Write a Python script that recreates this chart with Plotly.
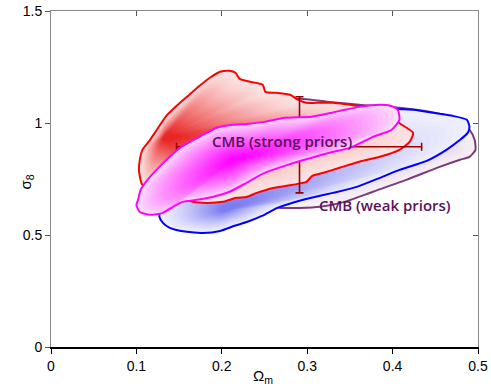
import numpy as np
import plotly.graph_objects as go

# contour outlines: Omega_m (x) and sigma_8 (y)
red_x = [0.107, 0.103, 0.104, 0.107, 0.116, 0.124, 0.135, 0.151, 0.162, 0.174, 0.186, 0.198,
         0.209, 0.216, 0.221, 0.233, 0.248, 0.251, 0.264, 0.280, 0.289, 0.299, 0.311, 0.330,
         0.350, 0.370, 0.393, 0.406, 0.424, 0.420, 0.408, 0.385, 0.361, 0.338, 0.318, 0.306,
         0.299, 0.283, 0.260, 0.241, 0.229, 0.217, 0.201, 0.182, 0.166, 0.145, 0.125]
red_y = [0.724, 0.791, 0.836, 0.880, 0.925, 0.970, 1.032, 1.090, 1.126, 1.166, 1.202, 1.229,
         1.233, 1.224, 1.197, 1.184, 1.171, 1.139, 1.135, 1.126, 1.104, 1.090, 1.090, 1.090,
         1.081, 1.072, 1.068, 1.005, 0.956, 0.916, 0.880, 0.849, 0.827, 0.800, 0.777, 0.764,
         0.737, 0.724, 0.710, 0.688, 0.670, 0.666, 0.648, 0.643, 0.648, 0.675, 0.702]

strong_x = [0.102, 0.100, 0.104, 0.116, 0.131, 0.143, 0.154, 0.171, 0.189, 0.209, 0.229, 0.250,
            0.277, 0.305, 0.326, 0.350, 0.377, 0.399, 0.408, 0.406, 0.397, 0.385, 0.361, 0.344,
            0.329, 0.305, 0.274, 0.250, 0.230, 0.213, 0.194, 0.174, 0.151, 0.127, 0.113, 0.105]
strong_y = [0.657, 0.634, 0.603, 0.590, 0.599, 0.626, 0.648, 0.657, 0.670, 0.693, 0.733, 0.777,
            0.813, 0.845, 0.867, 0.889, 0.938, 0.970, 1.014, 1.059, 1.077, 1.081, 1.072, 1.059,
            1.046, 1.028, 1.023, 1.005, 0.996, 0.992, 0.979, 0.938, 0.889, 0.804, 0.746, 0.702]

blue_x = [0.127, 0.131, 0.139, 0.159, 0.178, 0.198, 0.215, 0.230, 0.247, 0.265, 0.282, 0.305,
          0.330, 0.358, 0.385, 0.408, 0.440, 0.463, 0.479, 0.488, 0.490, 0.487, 0.470, 0.455,
          0.424, 0.400, 0.373, 0.338, 0.291, 0.244, 0.198, 0.151, 0.130]
blue_y = [0.581, 0.554, 0.532, 0.514, 0.509, 0.518, 0.541, 0.559, 0.585, 0.621, 0.643, 0.666,
          0.688, 0.715, 0.755, 0.791, 0.831, 0.880, 0.925, 0.956, 0.983, 1.014, 1.032, 1.041,
          1.059, 1.063, 1.059, 1.054, 1.041, 0.992, 0.903, 0.791, 0.679]

weak_x = [0.270, 0.291, 0.315, 0.344, 0.377, 0.416, 0.455, 0.479, 0.490, 0.497, 0.496, 0.490,
          0.473, 0.443, 0.408, 0.361, 0.323, 0.291, 0.256, 0.221, 0.198, 0.192, 0.209, 0.244]
weak_y = [0.621, 0.621, 0.626, 0.648, 0.693, 0.746, 0.804, 0.836, 0.849, 0.880, 0.925, 0.970,
          1.023, 1.050, 1.068, 1.081, 1.095, 1.108, 1.086, 1.014, 0.925, 0.791, 0.679, 0.634]

# best-fit point with its error bars
point_om, point_s8 = 0.291, 0.894
err_om_plus, err_om_minus = 0.143, 0.144
err_s8_plus, err_s8_minus = 0.223, 0.206

x_ticks = [0, 0.1, 0.2, 0.3, 0.4, 0.5]
y_ticks = [0, 0.5, 1, 1.5]


def blend(c0, c1, t):
    return "rgb(%d,%d,%d)" % tuple(round(a + (b - a) * t) for a, b in zip(c0, c1))


def add_region(fig, xs, ys, centre, edge, peak, line_col, n=30, gamma=1.0):
    xs = np.array(xs + xs[:1])
    ys = np.array(ys + ys[:1])
    cx, cy = centre
    for k in range(n):
        t = k / n
        f = 1 - 0.96 * t
        fig.add_trace(go.Scatter(x=cx + (xs - cx) * f, y=cy + (ys - cy) * f, mode="lines",
                                 fill="toself", fillcolor=blend(edge, peak, t ** gamma),
                                 line=dict(width=0, shape="spline", smoothing=0.6),
                                 hoverinfo="skip", showlegend=False))
    fig.add_trace(go.Scatter(x=xs, y=ys, mode="lines",
                             line=dict(color=line_col, width=2, shape="spline", smoothing=0.6),
                             hoverinfo="skip", showlegend=False))


fig = go.Figure()
add_region(fig, weak_x, weak_y, (0.455, 0.88), (247, 241, 246), (230, 216, 230), "#7a3a7e")
add_region(fig, blue_x, blue_y, (0.204, 0.612), (238, 238, 253), (120, 120, 240), "#0000ff", gamma=1.3)
add_region(fig, red_x, red_y, (0.133, 0.938), (252, 226, 226), (232, 30, 30), "#ff0000", gamma=1.3)

fig.add_trace(go.Scatter(
    x=[point_om], y=[point_s8], mode="markers",
    marker=dict(size=1, color="#990000"),
    error_x=dict(type="data", array=[err_om_plus], arrayminus=[err_om_minus],
                 color="#990000", thickness=1.6, width=4),
    error_y=dict(type="data", array=[err_s8_plus], arrayminus=[err_s8_minus],
                 color="#990000", thickness=1.6, width=4),
    hoverinfo="skip", showlegend=False))

add_region(fig, strong_x, strong_y, (0.215, 0.836), (251, 226, 251), (255, 0, 255), "#ff00ff", gamma=0.8)

txt = dict(family="Open Sans, DejaVu Sans, sans-serif", size=15, color="#5a125a", weight=600)
fig.add_annotation(x=0.270, y=0.92, text="CMB (strong priors)", showarrow=False, font=txt)
fig.add_annotation(x=0.391, y=0.634, text="CMB (weak priors)", showarrow=False, font=txt)

title_font = dict(family="Liberation Sans, Arial, sans-serif", size=15, color="black")
fig.add_annotation(x=0.248, y=0, xref="x", yref="paper", yanchor="top", yshift=-18,
                   text="Ω<sub>m</sub>", showarrow=False, font=title_font)
fig.add_annotation(x=-0.085, y=0.49, xref="paper", yref="paper", textangle=-90,
                   text="σ<sub>8</sub>", showarrow=False, font=title_font)

tick_font = dict(family="Liberation Sans, Arial, sans-serif", size=14, color="black")
fig.update_layout(
    width=491, height=392, autosize=False,
    margin=dict(l=51, r=13, t=11, b=45, autoexpand=False),
    paper_bgcolor="white", plot_bgcolor="white",
    xaxis=dict(range=[0, 0.5], tickvals=x_ticks, ticktext=["0", "0.1", "0.2", "0.3", "0.4", "0.5"],
               ticks="outside", ticklen=5, tickcolor="black", showline=True, linecolor="black",
               linewidth=2, showgrid=False, zeroline=False, tickfont=tick_font, automargin=False),
    yaxis=dict(range=[0, 1.5], tickvals=y_ticks, ticktext=["0", "0.5", "1", "1.5"],
               ticks="outside", ticklen=5, tickcolor="#555", showline=True, linecolor="#888",
               linewidth=1, showgrid=False, zeroline=False, tickfont=tick_font, automargin=False),
    xaxis2=dict(range=[0, 0.5], tickvals=x_ticks, overlaying="x", side="top", ticks="inside",
                ticklen=5, tickcolor="#555", showline=True, linecolor="#888", linewidth=1,
                showticklabels=False, showgrid=False, zeroline=False, automargin=False),
    yaxis2=dict(range=[0, 1.5], tickvals=y_ticks, overlaying="y", side="right", ticks="inside",
                ticklen=5, tickcolor="#555", showline=True, linecolor="#888", linewidth=1,
                showticklabels=False, showgrid=False, zeroline=False, automargin=False),
)
# invisible trace so the mirrored frame axes get drawn
fig.add_trace(go.Scatter(x=[None], y=[None], xaxis="x2", yaxis="y2", showlegend=False))

# drop the default 8px page margin so the figure fills the window
fig.write_html("out.html", config={"displayModeBar": False, "responsive": False},
               post_script="document.body.style.margin='0';")
